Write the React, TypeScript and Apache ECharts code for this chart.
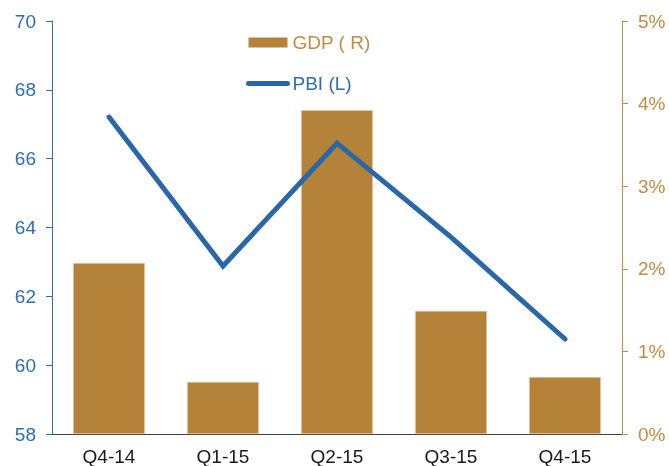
import React, { useEffect, useRef } from "react";
import * as echarts from "echarts";

const categories = ["Q4-14", "Q1-15", "Q2-15", "Q3-15", "Q4-15"];
const gdpValues = [2.07, 0.63, 3.92, 1.49, 0.69];
const pbiValues = [67.21, 62.88, 66.45, 63.72, 60.76];

const BAR = "#B5823A";
const BAR_TEXT = "#C08B45";
const LINE = "#2A67A8";
const LINE_TEXT = "#2E6DB4";
const FONT = "Liberation Sans, Arial, sans-serif";
const FS = 19;

export default function App() {
  const ref = useRef<HTMLDivElement>(null);
  useEffect(() => {
    if (!ref.current) return;
    const chart = echarts.init(ref.current, undefined, { renderer: "svg" });
    chart.setOption({
      animation: false,
      textStyle: { fontFamily: FONT },
      grid: { left: 52, right: 47, top: 21, bottom: 32, containLabel: false },
      legend: {
        orient: "vertical",
        left: 246,
        top: 33,
        padding: 0,
        itemWidth: 39,
        itemHeight: 10,
        itemGap: 22,
        textStyle: { fontSize: FS, fontFamily: FONT },
        data: [
          {
            name: "GDP ( R)",
            icon: "rect",
            textStyle: { color: BAR_TEXT },
            itemStyle: { color: BAR, borderWidth: 0 },
          },
          {
            name: "PBI (L)",
            textStyle: { color: LINE_TEXT },
            itemStyle: { opacity: 0 },
            lineStyle: { width: 5, cap: "round", color: LINE },
          },
        ],
      },
      xAxis: {
        type: "category",
        data: categories,
        axisLine: { lineStyle: { color: "#404040", width: 1 } },
        axisTick: { show: false },
        axisLabel: { color: "#1a1a1a", fontSize: FS, margin: 13, fontFamily: FONT },
      },
      yAxis: [
        {
          type: "value",
          min: 58,
          max: 70,
          interval: 2,
          position: "left",
          splitLine: { show: false },
          axisLine: { show: true, lineStyle: { color: LINE_TEXT, width: 1 } },
          axisTick: { show: true, length: 6, lineStyle: { color: LINE_TEXT } },
          axisLabel: { color: LINE_TEXT, fontSize: FS, margin: 16, fontFamily: FONT },
        },
        {
          type: "value",
          min: 0,
          max: 5,
          interval: 1,
          position: "right",
          splitLine: { show: false },
          axisLine: { show: true, lineStyle: { color: BAR_TEXT, width: 1 } },
          axisTick: { show: true, length: 6, lineStyle: { color: BAR_TEXT } },
          axisLabel: {
            color: BAR_TEXT,
            fontSize: FS,
            margin: 16,
            fontFamily: FONT,
            formatter: "{value}%",
          },
        },
      ],
      series: [
        {
          name: "GDP ( R)",
          type: "bar",
          yAxisIndex: 1,
          data: gdpValues,
          barWidth: "63%",
          itemStyle: { color: BAR, borderColor: "#E8D2B5", borderWidth: 0.6 },
        },
        {
          name: "PBI (L)",
          type: "line",
          yAxisIndex: 0,
          data: pbiValues,
          symbol: "none",
          showSymbol: false,
          lineStyle: { color: LINE, width: 5, cap: "round", join: "miter" },
          itemStyle: { color: LINE },
        },
      ],
    });
    return () => chart.dispose();
  }, []);
  return (
    <div
      ref={ref}
      style={{ position: "fixed", left: 0, top: 0, width: 669, height: 466 }}
    />
  );
}
